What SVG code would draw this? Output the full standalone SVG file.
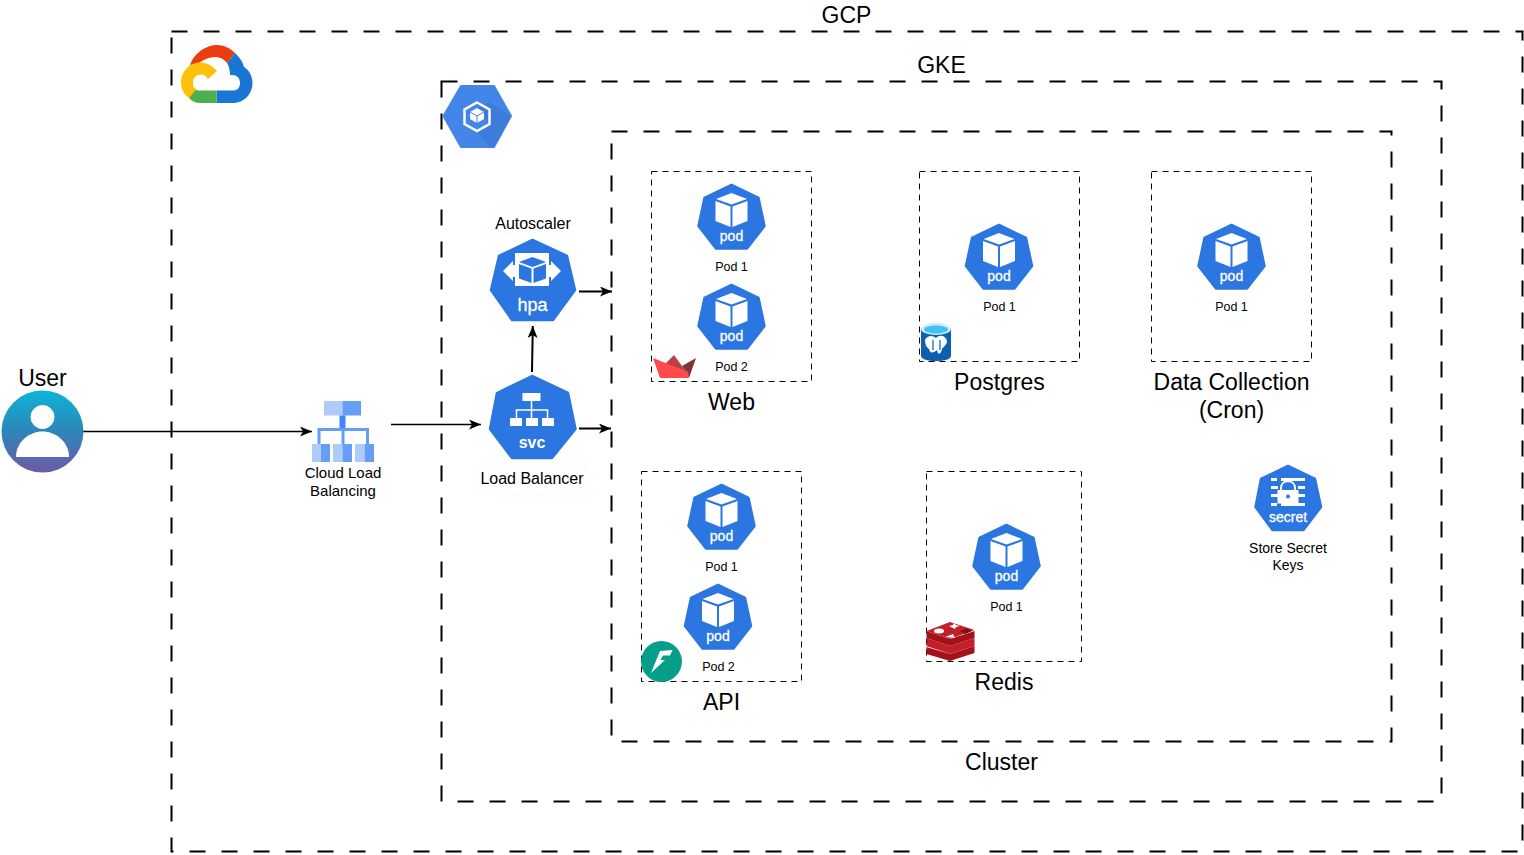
<svg xmlns="http://www.w3.org/2000/svg" xmlns:xlink="http://www.w3.org/1999/xlink" width="1524" height="855" viewBox="0 0 1524 855">
<style>
text{font-family:"Liberation Sans",Arial,sans-serif;fill:#000;text-anchor:middle}
.big{font-size:23px}.mid{font-size:16px}.sm{font-size:12.500px}.lb{font-size:15px}
.pt{font-size:14px;fill:#fff;stroke:#fff;stroke-width:.3}
.frame{fill:none;stroke:#000;stroke-width:2;stroke-dasharray:16 16}
.box{fill:none;stroke:#000;stroke-width:1;stroke-dasharray:6 5}
.c{fill:none;stroke:#000;stroke-width:1.500;marker-end:url(#a)}
.s{fill:none;stroke:#000;stroke-width:2;marker-end:url(#a)}
.hex{fill:#2b76e0;stroke:#2b76e0;stroke-width:2.500;stroke-linejoin:round}
</style>
<defs>
<marker id="a" markerWidth="13" markerHeight="11" refX="12" refY="5" orient="auto" markerUnits="userSpaceOnUse"><path d="M0 0L12 5L0 10L3 5Z" fill="#000"/></marker>
<linearGradient id="u" x1="0" y1="0" x2="0" y2="1"><stop offset="0" stop-color="#0cb4d8"/><stop offset=".5" stop-color="#2d86b8"/><stop offset="1" stop-color="#6d5aa6"/></linearGradient>
<g id="pod">
<path class="hex" d="M0 2L27 15L33 43L15.500 65.500H-15.500L-33 43L-27 15Z"/>
<path d="M0 10L15.500 16L0 21.500L-15.500 16ZM-16 18L-1 23.500V44L-16 38ZM16 18L1 23.500V44L16 38Z" fill="#fff"/>
<text class="pt" x="0" y="57.500">pod</text>
</g>
</defs>

<g id="frames">
<rect id="gcp" class="frame" x="171.500" y="31.500" width="1351" height="820"/>
<rect id="gke" class="frame" x="441.500" y="81.500" width="1000" height="720"/>
<rect id="cluster" class="frame" x="611.500" y="131.500" width="780" height="610"/>
<text class="big" x="846.500" y="23">GCP</text>
<text class="big" x="941.500" y="73">GKE</text>
<text class="big" x="1001.500" y="770">Cluster</text>
</g>

<g id="connectors">
<path class="c" d="M83 431.500H312"/>
<path class="c" d="M391 424.500H481"/>
<path class="s" d="M532 372L532.800 326"/>
<path class="s" d="M579 291.500H612"/>
<path class="s" d="M579 428.500H611"/>
</g>

<g id="gcp-logo">
<path d="M190 65C194 53 206 45 217 45C224 45 230 48 235 53L227 63C224 59 220 57 216 57C209 57 203 60 199 63Z" fill="#ea3d10"/>
<path d="M235 53C240 58 243 62 244 67C249 70 252.500 76 252.500 83C252.500 94 244 103 233 103H216.500V90.500H233C238 90.500 240 87 240 83C240 78 237 75 232 75H230C230 71 229 66 227 63Z" fill="#1976d2"/>
<path d="M216.500 90.500H200C198 90.500 197 90.300 195 89.500L189 98C192 101.500 196 103 200 103H216.500Z" fill="#4caf50"/>
<path d="M217 71C212 65 206 62.500 200 62.500C189 62.500 181 72 181 83C181 89 184 94.500 189 98L196.500 89C193 88 193 85 193 83C193 78 196 74.500 201 74.500C204 74.500 206 76 208 79Z" fill="#ffc107"/>
</g>

<g id="gke-logo">
<path d="M461 86H494L511 116L494 147H461L443.500 116Z" fill="#4386e8" stroke="#4386e8" stroke-width="2" stroke-linejoin="round"/>
<path d="M477 108L490 125L477 132L490 147H494L511 116L489 102Z" fill="#3a72cc" opacity=".45"/>
<path d="M477 102.500L489.500 109.500V124L477 131L464.500 124V109.500Z" fill="none" stroke="#fff" stroke-width="2.500"/>
<path d="M477 108L484 112V119L477 123L470 119V112Z" fill="#fff"/>
<path d="M477 116V123M470 112L477 116L484 112" stroke="#4386e8" stroke-width="1" fill="none"/>
</g>

<g id="user">
<text class="big" x="42.500" y="386">User</text>
<circle cx="42.500" cy="431.500" r="41" fill="url(#u)"/>
<circle cx="42.500" cy="417" r="11.500" fill="#fff" stroke="#fff" stroke-width="1"/>
<path d="M16 457C16 442 29 431.500 42.500 431.500C56 431.500 69 442 69 457Z" fill="#fff"/>
</g>

<g id="cloud-lb">
<rect x="324" y="401" width="18.500" height="14.500" fill="#aecbfa"/><rect x="342.500" y="401" width="18.500" height="14.500" fill="#669df6"/>
<rect x="339.500" y="415.500" width="6" height="13" fill="#4285f4"/>
<path d="M319 445V429.500H367.500V445M343 429.500V445" fill="none" stroke="#669df6" stroke-width="3"/>
<rect x="312" y="444" width="9" height="18" fill="#aecbfa"/><rect x="321" y="444" width="9" height="18" fill="#669df6"/>
<rect x="333" y="444" width="9.500" height="18" fill="#aecbfa"/><rect x="342.500" y="444" width="9.500" height="18" fill="#669df6"/>
<rect x="355" y="444" width="9.500" height="18" fill="#aecbfa"/><rect x="364.500" y="444" width="9.500" height="18" fill="#669df6"/>
<text class="lb" x="343" y="478">Cloud Load</text>
<text class="lb" x="343" y="496">Balancing</text>
</g>

<g id="hpa">
<text class="mid" x="533" y="229">Autoscaler</text>
<path class="hex" d="M532.500 240L567 256L575 290L553 320H512L491 290L499 256Z"/>
<rect x="515" y="253" width="34" height="33" fill="#fff"/>
<path d="M516 265H513V261L503 271L513 281V277H516ZM548 265H551V261L561 271L551 281V277H548Z" fill="#fff"/>
<path d="M532.500 257L546 262L532.500 267L519 262ZM519 264L531.500 268.500V283L519 278.500ZM546 264L533.500 268.500V283L546 278.500Z" fill="#2b76e0"/>
<text x="532.500" y="311" style="font-size:18px;fill:#fff;stroke:#fff;stroke-width:.3">hpa</text>
</g>

<g id="svc">
<path class="hex" d="M532 376L568 393L575.500 429L552 458H512L490 429L497 393Z"/>
<rect x="522.500" y="393" width="18" height="8" fill="#fff"/>
<path d="M531.500 401V409M516.500 418V410H547.500V418M531.500 410V418" fill="none" stroke="#fff" stroke-width="1.500"/>
<rect x="510" y="418" width="12" height="8" fill="#fff"/><rect x="526" y="418" width="12" height="8" fill="#fff"/><rect x="542" y="418" width="12" height="8" fill="#fff"/>
<text x="532" y="448" style="font-size:16px;font-weight:700;fill:#fff">svc</text>
<text class="mid" x="532" y="484">Load Balancer</text>
</g>

<g id="web">
<rect class="box" x="651.500" y="171.500" width="160" height="210"/>
<use href="#pod" x="731.500" y="183"/>
<text class="sm" x="731.500" y="271">Pod 1</text>
<use href="#pod" x="731.500" y="283"/>
<text class="sm" x="731.500" y="371">Pod 2</text>
<path d="M664 365L674 355L682 366L688 373L672 370Z" fill="#bd4043"/>
<path d="M682 366L696 358L689 378L687 372Z" fill="#7d353b"/>
<path d="M653 358L688 372L689 378H660Z" fill="#ff4b4b"/>
<text class="big" x="731.500" y="410">Web</text>
</g>

<g id="postgres">
<rect class="box" x="919.500" y="171.500" width="160" height="190"/>
<use href="#pod" x="999" y="223"/>
<text class="sm" x="999.500" y="311">Pod 1</text>
<path d="M921 329H951V356C951 359 944 361 936 361C928 361 921 359 921 356Z" fill="#0d5fb0"/>
<ellipse cx="936" cy="329" rx="15" ry="6" fill="#d4e8f7"/>
<ellipse cx="936" cy="329.500" rx="12" ry="4" fill="#3bc4f0"/>
<path d="M925 340C927 335 933 335 936 338C940 334 946 336 947 341C947 345 943 347 942 349C941 354 938 356 937 350C934 353 930 354 929 349C926 347 925 344 925 340Z" fill="#fff"/>
<path d="M933 340V350M940 340V350" stroke="#0d5fb0" stroke-width="1.200"/>
<text class="big" x="999.500" y="390">Postgres</text>
</g>

<g id="data-collection">
<rect class="box" x="1151.500" y="171.500" width="160" height="190"/>
<use href="#pod" x="1231.500" y="223"/>
<text class="sm" x="1231.500" y="311">Pod 1</text>
<text class="big" x="1231.500" y="390">Data Collection</text>
<text class="big" x="1231.500" y="418">(Cron)</text>
</g>

<g id="api">
<rect class="box" x="641.500" y="471.500" width="160" height="210"/>
<use href="#pod" x="721.500" y="483"/>
<text class="sm" x="721.500" y="571">Pod 1</text>
<use href="#pod" x="718" y="583"/>
<text class="sm" x="718.500" y="671">Pod 2</text>
<circle cx="661.500" cy="661.500" r="20.500" fill="#059e88"/>
<path d="M672.500 650L660 651L651 673L665 660H660.500L663 655.500H670Z" fill="#fff"/>
<text class="big" x="721.500" y="710">API</text>
</g>

<g id="redis">
<rect class="box" x="926.500" y="471.500" width="155" height="190"/>
<use href="#pod" x="1006.500" y="523"/>
<text class="sm" x="1006.500" y="611">Pod 1</text>
<path d="M926.500 647V654L950 661L974.500 653V646L950 654Z" fill="#a51119"/>
<path d="M926.500 638V646L950 654L974.500 646V638L950 646Z" fill="#c21f2a"/>
<path d="M926.500 631V638L950 646L974.500 638V631L950 639Z" fill="#a51119"/>
<path d="M926.500 631L950 622L974.500 630L950 639Z" fill="#c21f2a"/>
<ellipse cx="939" cy="631" rx="5" ry="2.500" fill="#fff"/>
<path d="M949 626L953 625L954 623L956 625L960 626L956 627L955 629L952 627.500Z" fill="#fff"/>
<path d="M945 637L953 634L955 638Z" fill="#fff"/>
<path d="M960 631L967 628.500L972 631L965 634Z" fill="#7a1018"/>
<text class="big" x="1004" y="690">Redis</text>
</g>

<g id="secret">
<path class="hex" d="M1288 466L1315 479L1321 507L1303.500 530H1272.500L1255.500 507L1261 479Z"/>
<path d="M1271 478H1277V481H1271ZM1281 478H1305V481H1281ZM1298 486H1305V489H1298ZM1271 486H1278V489H1271ZM1298 494H1305V497H1298ZM1271 494H1278V497H1271ZM1271 503H1277V506H1271ZM1281 503H1305V506H1281Z" fill="#fff"/>
<path d="M1281 490V488C1281 479 1295 479 1295 488V490" fill="none" stroke="#fff" stroke-width="2"/>
<rect x="1277.500" y="490" width="21" height="13.500" fill="#fff"/>
<circle cx="1288" cy="496.500" r="2" fill="#2b76e0"/>
<text class="pt" x="1288" y="521.500">secret</text>
<text x="1288" y="553" style="font-size:14px">Store Secret</text>
<text x="1288" y="570" style="font-size:14px">Keys</text>
</g>
</svg>
